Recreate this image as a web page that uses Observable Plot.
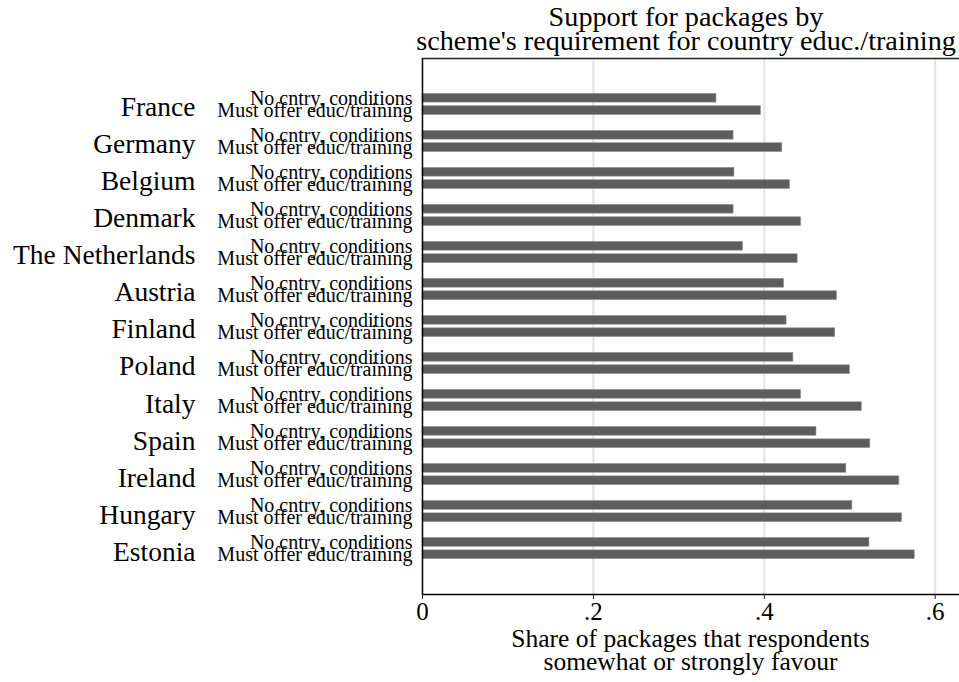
<!DOCTYPE html>
<html>
<head>
<meta charset="utf-8">
<script src="https://cdn.jsdelivr.net/npm/d3@7"></script>
<script src="https://cdn.jsdelivr.net/npm/@observablehq/plot@0.6"></script>
<style>
  html, body { margin: 0; padding: 0; background: white; }
  #wrap { position: relative; width: 959px; height: 682px; font-family: "Liberation Serif", serif; color: black; overflow: hidden; }
  #wrap svg { position: absolute; left: 0; top: 0; }
  .t { position: absolute; text-align: center; white-space: nowrap; }
  .title { left: 400px; width: 572px; font-size: 28.2px; line-height: 26px; }
  .xt { left: 422px; width: 537px; font-size: 25.5px; line-height: 24px; }
</style>
</head>
<body>
<div id="wrap">
  <div class="t title" style="top:4px">Support for packages by</div>
  <div class="t title" style="top:28px">scheme's requirement for country educ./training</div>
  <div class="t xt" style="top:627px">Share of packages that respondents</div>
  <div class="t xt" style="top:650px">somewhat or strongly favour</div>
</div>
<script>
const countries = ["France", "Germany", "Belgium", "Denmark", "The Netherlands", "Austria", "Finland", "Poland", "Italy", "Spain", "Ireland", "Hungary", "Estonia"];
const types = ["No cntry, conditions", "Must offer educ/training"];
const noConditions = [0.344, 0.364, 0.365, 0.364, 0.375, 0.423, 0.426, 0.434, 0.443, 0.461, 0.496, 0.503, 0.523];
const mustOfferEduc = [0.396, 0.421, 0.430, 0.443, 0.439, 0.485, 0.483, 0.500, 0.514, 0.524, 0.558, 0.561, 0.576];
const xTicks = [0, 0.2, 0.4, 0.6];
const gridTicks = [0.2, 0.4, 0.6];

const SEP = " | ";
const key = (c, t) => c + SEP + t;
const rows = countries.flatMap((c, i) => [
  {country: c, type: types[0], key: key(c, types[0]), value: noConditions[i]},
  {country: c, type: types[1], key: key(c, types[1]), value: mustOfferEduc[i]}
]);
// y band domain: two bars per country, with an empty gap slot between countries
const yDomain = countries.flatMap((c, i) =>
  i < countries.length - 1 ? [key(c, types[0]), key(c, types[1]), c + SEP + "gap"] : [key(c, types[0]), key(c, types[1])]);

const chart = Plot.plot({
  width: 959,
  height: 682,
  marginTop: 58,
  marginBottom: 88,
  marginLeft: 422,
  marginRight: 0,
  style: {fontFamily: "Liberation Serif, serif", background: "transparent", color: "black"},
  x: {domain: [0, 0.6284], label: null},
  y: {domain: yDomain, paddingInner: 0.295, paddingOuter: 2.87, round: false, label: null},
  marks: [
    Plot.ruleX(gridTicks, {stroke: "#e2e2e2", strokeWidth: 2}),
    Plot.barX(rows, {y: "key", x: "value", fill: "#5d5d5d", stroke: "#8c8c8c", strokeWidth: 0.6}),
    Plot.ruleX([0], {stroke: "black", strokeWidth: 1.5}),
    Plot.frame({anchor: "top", stroke: "#222", strokeWidth: 1.5}),
    Plot.frame({anchor: "bottom", stroke: "black", strokeWidth: 1.5}),
    Plot.axisX({ticks: xTicks, tickSize: 5, tickPadding: 3, fontSize: 25, stroke: "#222",
      tickFormat: d => d === 0 ? "0" : d3.format(".1f")(d).replace(/^0/, ""), label: null}),
    Plot.axisY({ticks: rows.map(d => d.key), tickFormat: k => k.split(SEP)[1],
      tickSize: 0, tickPadding: 10, fontSize: 20, label: null}),
    Plot.axisY({ticks: countries.map(c => key(c, types[1])), tickFormat: k => k.split(SEP)[0],
      tickSize: 0, tickPadding: 227, fontSize: 27.5, dy: -3, label: null})
  ]
});
document.getElementById("wrap").prepend(chart);
</script>
</body>
</html>
